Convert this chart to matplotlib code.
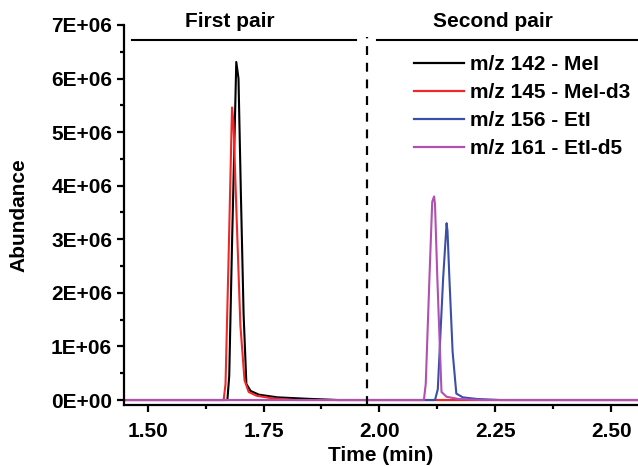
import numpy as np
import matplotlib
matplotlib.use('Agg')
import matplotlib.pyplot as plt
from matplotlib.ticker import MultipleLocator, FuncFormatter

plt.rcParams['font.family'] = ['Liberation Sans', 'DejaVu Sans']
plt.rcParams['font.weight'] = 'bold'

#%% DATA
t_mei = [1.449, 1.672, 1.676, 1.682, 1.6912, 1.696, 1.701, 1.707, 1.713, 1.722, 1.74, 1.78, 1.84, 1.91, 2.558]
y_mei = [0, 0, 0.45e6, 2.9e6, 6.31e6, 6.0e6, 3.9e6, 1.6e6, 0.3e6, 0.17e6, 0.1e6, 0.05e6, 0.025e6, 0, 0]

t_meid3 = [1.449, 1.664, 1.668, 1.675, 1.682, 1.685, 1.692, 1.700, 1.709, 1.718, 1.735, 1.77, 1.82, 2.558]
y_meid3 = [0, 0, 0.3e6, 2.8e6, 5.46e6, 5.2e6, 3.4e6, 1.4e6, 0.37e6, 0.15e6, 0.08e6, 0.03e6, 0.0, 0]

t_eti = [1.449, 2.120, 2.126, 2.1376, 2.145, 2.147, 2.151, 2.158, 2.166, 2.18, 2.21, 2.26, 2.558]
y_eti = [0, 0, 0.2e6, 2.28e6, 3.30e6, 3.15e6, 2.28e6, 0.9e6, 0.12e6, 0.05e6, 0.02e6, 0.0, 0]

t_etid5 = [1.449, 2.096, 2.100, 2.108, 2.114, 2.118, 2.120, 2.125, 2.134, 2.145, 2.17, 2.22, 2.558]
y_etid5 = [0, 0, 0.3e6, 2.28e6, 3.7e6, 3.80e6, 3.65e6, 2.28e6, 0.15e6, 0.06e6, 0.02e6, 0.0, 0]

labels = ['m/z 142 - MeI', 'm/z 145 - MeI-d3', 'm/z 156 - EtI', 'm/z 161 - EtI-d5']
colors = ['#000000', '#F02828', '#3A4FA8', '#B050B0']

split_time = 1.974
bar_y = 6.72e6
fs = 15

#%% PLOT
fig = plt.figure(figsize=(6.38, 4.66), dpi=100)
ax = fig.add_axes([0.1944, 0.1309, 0.8056, 0.8155])

series = [(t_mei, y_mei), (t_meid3, y_meid3), (t_eti, y_eti), (t_etid5, y_etid5)]
for (t, y), lab, c in zip(series, labels, colors):
    ax.plot(t, y, color=c, lw=1.5, label=lab)

ax.set_xlim(1.449, 2.558)
ax.set_ylim(-0.093e6, 7e6)

# pair markers
ax.plot([1.4657, 1.9486], [bar_y, bar_y], color='black', lw=1.5)
ax.plot([1.9955, 2.558], [bar_y, bar_y], color='black', lw=1.5, clip_on=False)
ax.plot([split_time, split_time], [-0.09e6, bar_y + 0.06e6], color='black', lw=1.6,
        ls=(0, (4, 3.5)))
ax.text(1.678, 7.06e6, 'First pair', ha='center', va='center', fontsize=fs,
        fontweight='bold', clip_on=False)
ax.text(2.245, 7.06e6, 'Second pair', ha='center', va='center', fontsize=fs,
        fontweight='bold', clip_on=False)

for s in ['top', 'right']:
    ax.spines[s].set_visible(False)
for s in ['left', 'bottom']:
    ax.spines[s].set_linewidth(1.6)

ax.xaxis.set_major_locator(MultipleLocator(0.25))
ax.xaxis.set_minor_locator(MultipleLocator(0.125))
ax.yaxis.set_major_locator(MultipleLocator(1e6))
ax.yaxis.set_minor_locator(MultipleLocator(0.5e6))
ax.xaxis.set_major_formatter(FuncFormatter(lambda v, p: '{:.2f}'.format(v)))
ax.yaxis.set_major_formatter(FuncFormatter(lambda v, p: '{:.0E}'.format(v)))
ax.tick_params(which='major', direction='out', length=5, width=1.6, labelsize=fs)
ax.tick_params(axis='x', which='major', pad=7)
ax.tick_params(which='minor', direction='out', length=3, width=1.6)
for lab in ax.get_xticklabels() + ax.get_yticklabels():
    lab.set_fontweight('bold')

ax.set_xlabel('Time (min)', fontsize=fs, fontweight='bold')
ax.set_ylabel('Abundance', fontsize=fs, fontweight='bold')
ax.xaxis.set_label_coords(0.5, -0.108)
ax.yaxis.set_label_coords(-0.185, 0.5)

leg = ax.legend(loc='upper left', bbox_to_anchor=(0.564, 0.92), frameon=False,
                fontsize=fs, handlelength=2.4, handletextpad=0.29, labelspacing=0.43,
                borderpad=0, borderaxespad=0)
for line in leg.get_lines():
    line.set_linewidth(1.6)
for txt in leg.get_texts():
    txt.set_fontweight('bold')

plt.savefig('out.png', dpi=100)
